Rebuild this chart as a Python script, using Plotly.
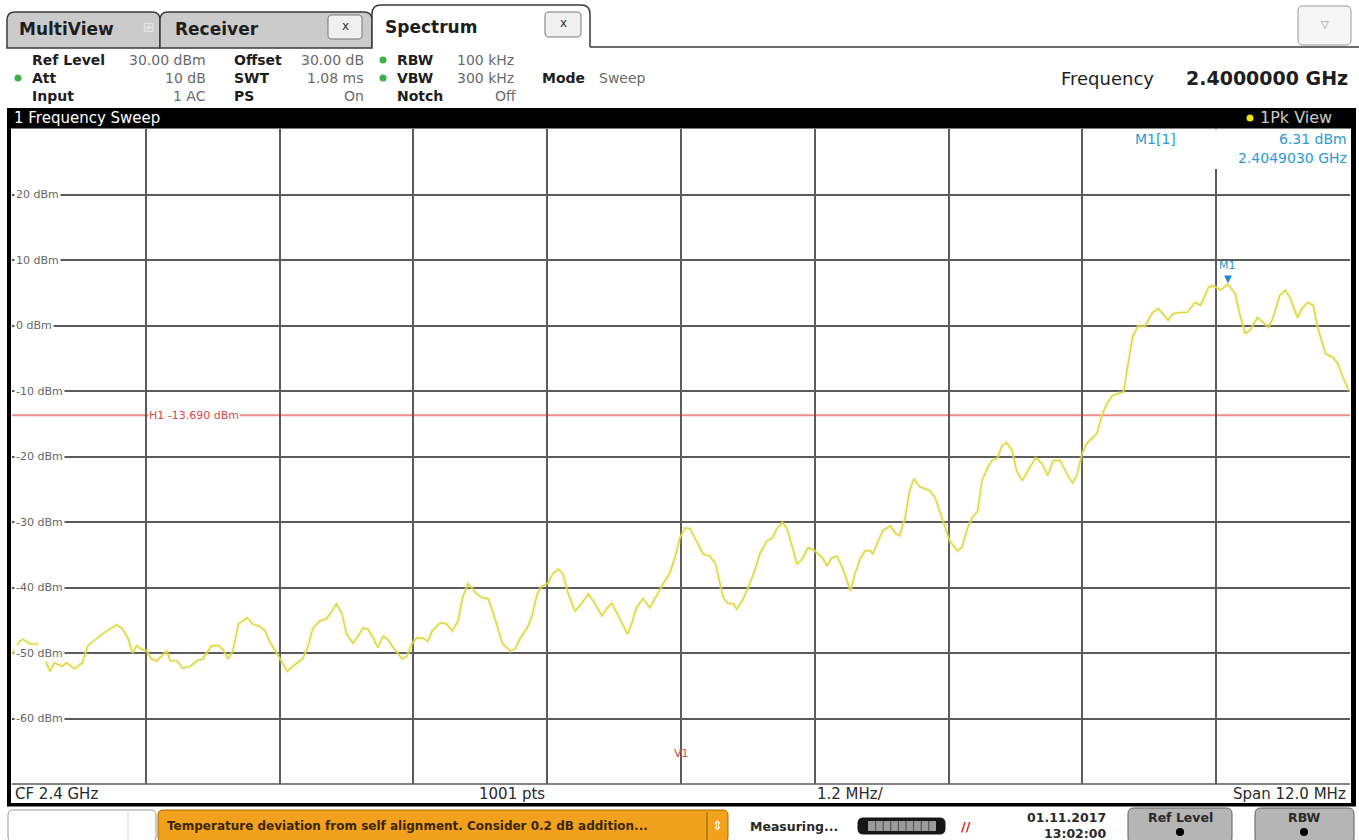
import plotly.graph_objects as go

# ---------------- data ----------------
center_freq_ghz = 2.4
span_mhz = 12.0
ref_level_dbm = 30.0
bottom_level_dbm = -70.0
h1_level_dbm = -13.69
m1_freq_ghz = 2.4049030
m1_level_dbm = 6.31
ytick_levels = [20, 10, 0, -10, -20, -30, -40, -50, -60]

freq_offset_mhz = [
    -6.00, -5.93, -5.90, -5.84, -5.78, -5.72, -5.66, -5.62, -5.55, -5.51,
    -5.44, -5.37, -5.32, -5.24, -5.19, -5.12, -5.06, -5.01, -4.96, -4.92,
    -4.88, -4.84, -4.79, -4.75, -4.70, -4.66, -4.61, -4.58, -4.52, -4.47,
    -4.40, -4.34, -4.29, -4.21, -4.15, -4.11, -4.06, -4.02, -3.97, -3.89,
    -3.84, -3.78, -3.73, -3.69, -3.62, -3.58, -3.53, -3.48, -3.44, -3.39,
    -3.35, -3.30, -3.24, -3.18, -3.13, -3.09, -3.04, -3.00, -2.94, -2.90,
    -2.85, -2.81, -2.76, -2.72, -2.67, -2.63, -2.58, -2.50, -2.46, -2.41,
    -2.37, -2.32, -2.27, -2.23, -2.16, -2.10, -2.05, -2.00, -1.96, -1.91,
    -1.83, -1.78, -1.73, -1.69, -1.64, -1.60, -1.53, -1.49, -1.44, -1.38,
    -1.34, -1.29, -1.25, -1.19, -1.15, -1.10, -1.06, -1.01, -0.95, -0.89,
    -0.83, -0.77, -0.71, -0.66, -0.62, -0.57, -0.48, -0.44, -0.40, -0.34,
    -0.28, -0.22, -0.16, -0.10, -0.05, -0.01, 0.04, 0.08, 0.14, 0.20,
    0.26, 0.31, 0.35, 0.38, 0.42, 0.47, 0.50, 0.55, 0.60, 0.66,
    0.71, 0.77, 0.82, 0.86, 0.91, 0.95, 1.00, 1.04, 1.09, 1.14,
    1.20, 1.27, 1.31, 1.35, 1.40, 1.44, 1.49, 1.52, 1.56, 1.61,
    1.65, 1.70, 1.72, 1.77, 1.81, 1.88, 1.92, 1.96, 2.01, 2.05,
    2.09, 2.14, 2.23, 2.28, 2.32, 2.37, 2.41, 2.48, 2.52, 2.57,
    2.61, 2.66, 2.70, 2.75, 2.79, 2.84, 2.88, 2.92, 2.97, 3.01,
    3.06, 3.10, 3.18, 3.24, 3.29, 3.34, 3.40, 3.46, 3.51, 3.55,
    3.60, 3.64, 3.69, 3.73, 3.78, 3.82, 3.87, 3.92, 3.97, 4.01,
    4.05, 4.10, 4.16, 4.23, 4.28, 4.32, 4.37, 4.41, 4.48, 4.54,
    4.61, 4.66, 4.73, 4.77, 4.84, 4.903, 4.97, 5.01, 5.06, 5.10,
    5.17, 5.22, 5.27, 5.31, 5.37, 5.42, 5.46, 5.53, 5.57, 5.62,
    5.67, 5.71, 5.78, 5.85, 5.89, 5.94, 5.98, 6.00,
]
level_dbm = [
    -50.2, -48.2, -47.9, -48.6, -48.6, -50.2, -52.8, -51.5, -52.0, -51.5,
    -52.4, -51.5, -48.9, -47.7, -47.1, -46.3, -45.7, -46.3, -47.7, -50.0,
    -48.9, -49.4, -49.7, -50.9, -51.2, -50.5, -49.7, -51.2, -51.2, -52.3,
    -52.0, -51.2, -50.9, -48.9, -48.9, -49.4, -50.9, -49.7, -45.6, -44.6,
    -45.6, -45.9, -46.6, -48.2, -50.2, -51.2, -52.8, -52.0, -51.5, -50.8,
    -49.2, -46.2, -45.1, -44.8, -43.6, -42.5, -44.0, -47.1, -48.5, -47.4,
    -46.2, -46.3, -47.7, -49.2, -47.4, -47.9, -49.2, -50.9, -50.5, -48.5,
    -47.7, -47.7, -48.2, -46.6, -45.4, -45.6, -46.6, -45.1, -41.6, -39.4,
    -41.0, -41.6, -41.7, -43.6, -46.2, -48.6, -49.7, -49.4, -47.7, -46.2,
    -44.6, -41.0, -39.8, -39.3, -37.9, -37.2, -37.9, -41.0, -43.6, -42.4,
    -41.0, -42.5, -44.3, -43.1, -42.4, -44.0, -47.1, -45.4, -43.1, -41.7,
    -43.1, -41.3, -39.4, -37.8, -35.2, -32.4, -30.9, -31.0, -32.9, -34.9,
    -35.2, -36.4, -39.4, -41.6, -42.4, -42.5, -43.3, -42.0, -40.1, -37.5,
    -34.7, -32.9, -32.4, -31.0, -30.1, -31.0, -33.9, -36.4, -35.6, -33.9,
    -34.4, -35.5, -36.7, -35.5, -35.2, -36.7, -39.0, -40.5, -37.9, -35.5,
    -34.4, -34.4, -34.9, -32.9, -31.3, -30.6, -31.7, -32.1, -29.4, -25.2,
    -23.4, -24.6, -25.2, -26.3, -28.3, -30.9, -32.9, -34.4, -33.9, -30.9,
    -29.4, -28.3, -23.7, -21.7, -20.6, -20.2, -18.3, -17.9, -19.1, -22.2,
    -23.7, -22.5, -20.2, -21.1, -22.9, -20.6, -20.6, -22.6, -24.0, -22.9,
    -19.4, -18.0, -17.1, -16.5, -13.5, -11.9, -10.7, -10.4, -10.1, -5.8,
    -1.8, 0.0, -0.2, 2.0, 2.6, 1.8, 0.8, 1.8, 2.0, 2.0,
    3.5, 3.1, 5.8, 6.1, 5.4, 6.31, 4.9, 1.8, -1.2, -0.8,
    1.2, 0.5, -0.3, 1.2, 4.6, 5.4, 4.3, 1.2, 2.6, 3.5,
    3.1, -0.3, -4.3, -4.9, -5.8, -8.0, -9.6, -10.0,
]

freq_ghz = [center_freq_ghz + f / 1000.0 for f in freq_offset_mhz]
f_start = center_freq_ghz - span_mhz / 2000.0
f_stop = center_freq_ghz + span_mhz / 2000.0

# ---------------- layout helpers (pixel -> paper) ----------------
WIDTH, HEIGHT = 1359, 840
PL, PR, PT, PB = 12, 1350, 129, 784


def X(px):
    return (px - PL) / (PR - PL)


def Y(py):
    return (PB - py) / (PB - PT)


def P(x, y):
    return f"{X(x):.5f},{Y(y):.5f}"


FONT = "DejaVu Sans"
shapes = []
annots = []


def rect(x0, y0, x1, y1, fill, line=None, lw=0, layer="above"):
    shapes.append(dict(type="rect", xref="paper", yref="paper",
                       x0=X(x0), x1=X(x1), y0=Y(y1), y1=Y(y0),
                       fillcolor=fill, layer=layer,
                       line=dict(color=line or fill, width=lw)))


def seg(x0, y0, x1, y1, color, lw=1, layer="above"):
    shapes.append(dict(type="line", xref="paper", yref="paper",
                       x0=X(x0), x1=X(x1), y0=Y(y0), y1=Y(y1), layer=layer,
                       line=dict(color=color, width=lw)))


def dot(cx, cy, r, fill):
    shapes.append(dict(type="circle", xref="paper", yref="paper",
                       x0=X(cx - r), x1=X(cx + r), y0=Y(cy + r), y1=Y(cy - r),
                       fillcolor=fill, line=dict(color=fill, width=0)))


def rrect(x0, y0, x1, y1, r, fill, line, lw=1, top_only=False, closed=True):
    if top_only:
        path = (f"M {P(x0, y1)} L {P(x0, y0 + r)} Q {P(x0, y0)} {P(x0 + r, y0)} "
                f"L {P(x1 - r, y0)} Q {P(x1, y0)} {P(x1, y0 + r)} L {P(x1, y1)}")
        if closed:
            path += " Z"
    else:
        path = (f"M {P(x0 + r, y0)} L {P(x1 - r, y0)} Q {P(x1, y0)} {P(x1, y0 + r)} "
                f"L {P(x1, y1 - r)} Q {P(x1, y1)} {P(x1 - r, y1)} "
                f"L {P(x0 + r, y1)} Q {P(x0, y1)} {P(x0, y1 - r)} "
                f"L {P(x0, y0 + r)} Q {P(x0, y0)} {P(x0 + r, y0)} Z")
    shapes.append(dict(type="path", xref="paper", yref="paper", path=path,
                       fillcolor=fill, line=dict(color=line, width=lw)))


def txt(x, y, text, size=13, color="#222", bold=False, anchor="left",
        family=FONT, bg=None):
    if bold:
        text = f"<b>{text}</b>"
    a = dict(xref="paper", yref="paper", x=X(x), y=Y(y), text=text,
             showarrow=False, xanchor=anchor, yanchor="middle",
             font=dict(family=family, size=size, color=color))
    if bg:
        a["bgcolor"] = bg
        a["borderpad"] = 0
    annots.append(a)


# ---------------- tabs ----------------
seg(590, 47, 1359, 47, "#3a3a3a", 1.5)
rrect(7, 12, 160, 48, 8, "#cbcbcb", "#3a3a3a", 1.5, top_only=True)
rrect(160, 12, 372, 48, 8, "#cbcbcb", "#3a3a3a", 1.5, top_only=True)
rrect(372, 5, 590, 47, 9, "#ffffff", "#3a3a3a", 1.5, top_only=True, closed=False)
rect(374, 46, 588, 50, "#ffffff")
txt(17, 29, "MultiView", 17, "#1e1e1e", True)
txt(141, 27, "⊞", 14, "#e8e8e8")
txt(173, 29, "Receiver", 17, "#1e1e1e", True)
txt(383, 27, "Spectrum", 17, "#1e1e1e", True)
rrect(328, 15, 362, 39, 4, "#f0f0f0", "#777777", 1)
txt(345, 26, "x", 12, "#333", anchor="center")
rrect(545, 12, 581, 37, 4, "#f0f0f0", "#777777", 1)
txt(563, 23, "x", 12, "#333", anchor="center")
rrect(1298, 6, 1351, 45, 5, "#f6f6f6", "#9a9a9a", 1)
txt(1325, 25, "▽", 10, "#888", anchor="center")

# ---------------- header info ----------------
LBL, VAL = "#1e1e1e", "#6a6a6a"
rows = [60, 78, 96]
txt(30, rows[0], "Ref Level", 14, LBL, True)
txt(208, rows[0], f"{ref_level_dbm:.2f} dBm", 14, VAL, anchor="right")
txt(232, rows[0], "Offset", 14, LBL, True)
txt(366, rows[0], "30.00 dB", 14, VAL, anchor="right")
txt(395, rows[0], "RBW", 14, LBL, True)
txt(455, rows[0], "100 kHz", 14, VAL)

txt(30, rows[1], "Att", 14, LBL, True)
txt(208, rows[1], "10 dB", 14, VAL, anchor="right")
txt(232, rows[1], "SWT", 14, LBL, True)
txt(366, rows[1], "1.08 ms", 14, VAL, anchor="right")
txt(395, rows[1], "VBW", 14, LBL, True)
txt(455, rows[1], "300 kHz", 14, VAL)
txt(540, rows[1], "Mode", 14, LBL, True)
txt(597, rows[1], "Sweep", 14, VAL)

txt(30, rows[2], "Input", 14, LBL, True)
txt(208, rows[2], "1 AC", 14, VAL, anchor="right")
txt(232, rows[2], "PS", 14, LBL, True)
txt(366, rows[2], "On", 14, VAL, anchor="right")
txt(395, rows[2], "Notch", 14, LBL, True)
txt(518, rows[2], "Off", 14, VAL, anchor="right")

dot(18, rows[1], 3.5, "#3cb04a")
dot(383, rows[0], 3.5, "#3cb04a")
dot(383, rows[1], 3.5, "#3cb04a")

txt(1156, 78, "Frequency", 18, "#1e1e1e", anchor="right")
txt(1350, 78, f"{center_freq_ghz:.7f} GHz", 19, "#1e1e1e", True, anchor="right")

# ---------------- diagram title bar & frame ----------------
rect(7, 108, 1355, 128.5, "#000000")
txt(12, 118, "1 Frequency Sweep", 15, "#ffffff")
dot(1250, 118, 3.5, "#f2e200")
txt(1334, 118, "1Pk View", 16, "#c8c8c8", anchor="right")
rect(7, 108, 11, 806, "#000000")
rect(1351, 108, 1356, 806, "#000000")
seg(12, 784, 1350, 784, "#5c5c5c", 1.5)
rect(7, 803, 1356, 806.5, "#000000")

# bottom scale row
txt(13, 794, f"CF {center_freq_ghz:g} GHz", 15, "#2a2a2a")
txt(512, 794, "1001 pts", 15, "#2a2a2a", anchor="center")
txt(850, 794, f"{span_mhz / 10:.1f} MHz/", 15, "#2a2a2a", anchor="center")
txt(1348, 794, f"Span {span_mhz:.1f} MHz", 15, "#2a2a2a", anchor="right")

# ---------------- marker info box ----------------
rect(1112, 129.5, 1350, 169, "#ffffff")
BLUE = "#2a9bd6"
txt(1133, 139, "M1[1]", 14, BLUE)
txt(1349, 139, f"{m1_level_dbm:.2f} dBm", 14, BLUE, anchor="right")
txt(1349, 158, f"{m1_freq_ghz:.7f} GHz", 14, BLUE, anchor="right")

# ---------------- status bar ----------------
rrect(8, 810, 156, 842, 5, "#ffffff", "#9a9a9a", 1)
seg(128, 812, 128, 840, "#d0d0d0", 1)
rrect(158, 810, 728, 842, 5, "#f2a11c", "#a86c00", 1)
txt(165, 826, "Temperature deviation from self alignment. Consider 0.2 dB addition...",
    12, "#3a2600", True)
seg(707, 812, 707, 840, "#8a5a00", 1)
txt(717, 825, "⇕", 13, "#ffffff", anchor="center")
txt(748, 826, "Measuring...", 12.5, "#2a2a2a", True)
rrect(858, 818, 945, 834, 5, "#161616", "#161616", 1)
rect(868, 821, 936, 831, "#9a9a9a")
for k in range(1, 9):
    seg(868 + k * 7.6, 821, 868 + k * 7.6, 831, "#4a4a4a", 1)
txt(966, 826, "//", 13, "#d21c1c", True, anchor="center")
txt(1108, 818, "01.11.2017", 12.5, "#2a2a2a", True, anchor="right")
txt(1108, 833, "13:02:00", 12.5, "#2a2a2a", True, anchor="right")
rrect(1128, 808, 1232, 844, 6, "#b5b5b5", "#5e5e5e", 1)
txt(1180, 818, "Ref Level", 12.5, "#2a2a2a", True, anchor="center")
dot(1180, 832, 4, "#000000")
rrect(1255, 808, 1354, 844, 6, "#b5b5b5", "#5e5e5e", 1)
txt(1304, 818, "RBW", 12.5, "#2a2a2a", True, anchor="center")
dot(1304, 832, 4, "#000000")

# ---------------- data-linked decorations ----------------
shapes.append(dict(type="line", xref="paper", yref="y", x0=0, x1=1,
                   y0=h1_level_dbm, y1=h1_level_dbm, layer="between",
                   line=dict(color="#f08c8c", width=2)))
shapes.append(dict(type="line", xref="x", yref="paper", x0=center_freq_ghz,
                   x1=center_freq_ghz, y0=0, y1=1, layer="between",
                   line=dict(color="#e98a8a", width=1.5)))

for lv in ytick_levels:
    annots.append(dict(xref="paper", yref="y", x=X(14), y=lv,
                       text=f"{lv} dBm", showarrow=False, xanchor="left",
                       yanchor="middle", bgcolor="#ffffff", borderpad=1,
                       font=dict(family=FONT, size=11, color="#666666")))

annots.append(dict(xref="paper", yref="y", x=X(148), y=h1_level_dbm,
                   text=f"H1 {h1_level_dbm:.3f} dBm", showarrow=False,
                   xanchor="left", yanchor="middle", bgcolor="#ffffff",
                   borderpad=0, font=dict(family=FONT, size=11, color="#d84848")))
annots.append(dict(xref="x", yref="y", x=center_freq_ghz, y=bottom_level_dbm,
                   text="V1", showarrow=False, yshift=31, xanchor="center",
                   font=dict(family=FONT, size=11, color="#d84848")))
annots.append(dict(xref="x", yref="y", x=m1_freq_ghz, y=m1_level_dbm,
                   text="▼", showarrow=False, yshift=6, xanchor="center",
                   font=dict(family=FONT, size=10, color="#1e88d0")))
annots.append(dict(xref="x", yref="y", x=m1_freq_ghz, y=m1_level_dbm,
                   text="M1", showarrow=False, yshift=19, xanchor="center",
                   font=dict(family=FONT, size=11, color="#2a9bd6")))

# ---------------- figure ----------------
fig = go.Figure()
fig.add_trace(go.Scatter(x=freq_ghz, y=level_dbm, mode="lines",
                         line=dict(color="rgba(235,230,120,0.30)", width=4),
                         hoverinfo="skip", showlegend=False))
fig.add_trace(go.Scatter(x=freq_ghz, y=level_dbm, mode="lines",
                         line=dict(color="#dcd640", width=1.4),
                         name="1Pk View", showlegend=False))

fig.update_layout(
    width=WIDTH, height=HEIGHT,
    margin=dict(l=PL, r=WIDTH - PR, t=PT, b=HEIGHT - PB, pad=0, autoexpand=False),
    paper_bgcolor="#ffffff", plot_bgcolor="#ffffff",
    showlegend=False,
    xaxis=dict(range=[f_start, f_stop], tick0=f_start, dtick=span_mhz / 10000.0,
               showgrid=True, gridcolor="#5c5c5c", gridwidth=1.5,
               showticklabels=False, ticks="", zeroline=False, showline=False,
               fixedrange=True),
    yaxis=dict(range=[bottom_level_dbm, ref_level_dbm], tick0=0, dtick=10,
               showgrid=True, gridcolor="#5c5c5c", gridwidth=1.5,
               showticklabels=False, ticks="", zeroline=False, showline=False,
               fixedrange=True),
    shapes=shapes, annotations=annots,
)

fig.write_html(
    "out.html",
    config={"displayModeBar": False},
    post_script="document.body.style.margin='0';document.body.style.overflow='hidden';",
)
